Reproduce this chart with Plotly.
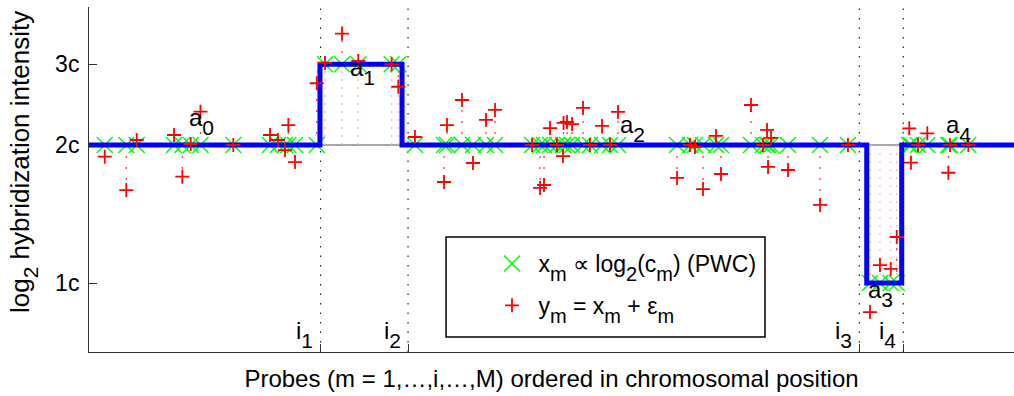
import numpy as np
import plotly.graph_objects as go

# ---- data (copy-number units "c"; x in arbitrary chromosomal-position units 0..100) ----
probe_pos = [1.70, 4.03, 5.16, 9.19, 10.09, 11.0, 12.05, 15.6, 19.57, 20.43, 21.19, 21.55, 22.27, 24.62,
             25.51, 27.35, 29.11, 32.72, 33.44,
             35.24, 38.38, 38.70, 40.32, 41.51, 42.92, 43.89, 47.9, 48.76, 49.19, 49.84, 50.59, 51.24,
             51.30, 51.68, 52.22, 53.41, 54.16, 55.46, 56.32, 57.19, 63.57, 64.97, 65.51, 66.38, 67.78,
             68.32, 71.57, 72.86, 73.30, 73.41, 73.73, 75.57, 79.03, 82.05,
             84.43, 85.51, 86.67, 87.32,
             88.68, 88.86, 89.62, 90.63, 92.90, 93.08, 95.06]
probe_true = [2] * 14 + [3] * 5 + [2] * 35 + [1] * 4 + [2] * 7
probe_obs = [1.886, 1.595, 2.051, 2.103, 1.706, 2.01, 2.364, 2.0, 2.103, 2.051, 1.950, 2.211, 1.836, 2.727,
             3.02, 3.50, 3.05, 3.0, 2.68,
             2.082, 1.661, 2.211, 2.507, 1.827, 2.268, 2.385, 2.0, 1.612, 1.636, 2.178, 2.0, 1.892,
             2.234, 2.245, 2.222, 2.409, 2.0, 2.201, 2.0, 2.361, 1.695, 2.0, 1.981, 1.603, 2.093,
             1.729, 2.445, 2.0, 2.157, 1.791, 2.072, 1.764, 1.480, 2.0,
             0.864, 1.094, 1.073, 1.26,
             2.175, 1.830, 2.0, 2.121, 1.740, 2.0, 2.0]

seg_edges = [0, 24.97, 33.84, 84.08, 87.86, 100]
seg_levels = [2, 3, 2, 1, 2]
baseline = 2

break_pos = [25.03, 34.49, 83.28, 88.03]
break_idx = ["1", "2", "3", "4"]

seg_label_pos = [12.2, 29.6, 58.8, 85.6, 94.0]
seg_label_y = [2.25, 2.89, 2.17, 0.95, 2.17]
seg_label_idx = ["0", "1", "2", "3", "4"]

ytick_vals = [1, 2, 3]
ytick_text = ["1c", "2c", "3c"]
y_range = [2 ** -0.5, 4]
x_range = [0, 100]

FONT = "Liberation Sans, Arial, Helvetica, sans-serif"
FS = 24
SUBFS = 21


def sub(s, size=SUBFS):
    return "<sub><sub><span style='font-size:%dpx'>%s</span></sub></sub>" % (size, s)


fig = go.Figure()

# baseline (thin gray)
fig.add_trace(go.Scatter(x=x_range, y=[baseline, baseline], mode="lines",
                         line=dict(color="#505050", width=1), showlegend=False, hoverinfo="skip"))

# pink stems: baseline -> true level (aberrant probes)
sx, sy = [], []
for p, t in zip(probe_pos, probe_true):
    if t != baseline:
        sx += [p, p, None]
        sy += [baseline, t, None]
fig.add_trace(go.Scatter(x=sx, y=sy, mode="lines",
                         line=dict(color="#ffb4b4", width=1.2, dash="2px,6px"),
                         showlegend=False, hoverinfo="skip"))

# red stems: true level -> observation
rx, ry = [], []
for p, t, o in zip(probe_pos, probe_true, probe_obs):
    rx += [p, p, None]
    ry += [t, o, None]
fig.add_trace(go.Scatter(x=rx, y=ry, mode="lines",
                         line=dict(color="#ff3030", width=1.2, dash="2px,9px"),
                         showlegend=False, hoverinfo="skip"))

# green x markers (true PWC values)
fig.add_trace(go.Scatter(x=probe_pos, y=probe_true, mode="markers",
                         name="\u00a0x" + sub("m", 20) + " \u221d log" + sub("2", 20) + "(c" + sub("m", 20) + ") (PWC)",
                         legendgroup="g1",
                         marker=dict(symbol="x-thin", size=16, line=dict(color="#00ff00", width=1.5))))

# blue step line
step_y = seg_levels + [seg_levels[-1]]
fig.add_trace(go.Scatter(x=seg_edges, y=step_y, mode="lines", line_shape="hv",
                         line=dict(color="#0000ff", width=5), showlegend=False, hoverinfo="skip"))

# red + markers (observations)
fig.add_trace(go.Scatter(x=probe_pos, y=probe_obs, mode="markers",
                         name="\u00a0y" + sub("m", 20) + " = x" + sub("m", 20) + " + \u03b5" + sub("m", 20),
                         legendgroup="g2",
                         marker=dict(symbol="cross-thin", size=10, line=dict(color="#ff0000", width=1.8))))

shapes = []
for b in break_pos:
    shapes.append(dict(type="line", xref="x", yref="paper", x0=b, x1=b, y0=0, y1=1.005,
                       line=dict(color="#222222", width=1.2, dash="1.5px,8px"), layer="below"))
# legend frame
shapes.append(dict(type="rect", xref="paper", yref="paper", x0=0.386, x1=0.7308, y0=0.0435, y1=0.3333,
                   line=dict(color="#000000", width=1.5), fillcolor="white", layer="above"))

annotations = []
for b, t in zip(break_pos, break_idx):
    annotations.append(dict(x=b, y=0.052, xref="x", yref="paper", text="i" + sub(t), showarrow=False,
                            xshift=-16, xanchor="center", yanchor="middle",
                            font=dict(size=FS, color="black", family=FONT)))
for xp, yp, t in zip(seg_label_pos, seg_label_y, seg_label_idx):
    annotations.append(dict(x=xp, y=np.log10(yp), xref="x", yref="y", text="a" + sub(t), showarrow=False,
                            xanchor="center", yanchor="middle",
                            font=dict(size=FS, color="black", family=FONT)))
# y axis title
annotations.append(dict(x=(23 - 89) / 925, y=(352 - 162) / 345, xref="paper", yref="paper",
                        text="log" + sub("2") + " hybridization intensity", textangle=-90,
                        showarrow=False, xanchor="center", yanchor="middle",
                        font=dict(size=26, color="black", family=FONT)))

fig.update_layout(
    width=1014, height=396,
    margin=dict(l=89, r=0, t=7, b=44, autoexpand=False),
    paper_bgcolor="white", plot_bgcolor="white",
    font=dict(family=FONT, size=FS, color="black"),
    shapes=shapes, annotations=annotations,
    showlegend=True,
    legend=dict(x=(492 - 89) / 925, y=(352 - 242) / 345, xanchor="left", yanchor="top",
                bgcolor="rgba(0,0,0,0)", borderwidth=0, tracegroupgap=9,
                font=dict(size=23, family=FONT, color="black")),
    xaxis=dict(range=x_range, showgrid=False, zeroline=False, showline=True, linecolor="#333333",
               linewidth=1, ticks="inside", tickvals=break_pos, ticklen=8, tickcolor="#333333",
               showticklabels=False, automargin=False,
               title=dict(text="Probes (m = 1,\u2026,i,\u2026,M) ordered in chromosomal position",
                          font=dict(size=FS, family=FONT, color="black"), standoff=18)),
    yaxis=dict(type="log", range=[np.log10(y_range[0]), np.log10(y_range[1])], showgrid=False,
               zeroline=False, showline=True, linecolor="#333333", linewidth=1,
               ticks="inside", ticklen=8, tickcolor="#333333", tickvals=ytick_vals, ticktext=ytick_text,
               ticklabelstandoff=4, automargin=False,
               tickfont=dict(size=23, family=FONT, color="black")),
)

fig.write_html("out.html")
